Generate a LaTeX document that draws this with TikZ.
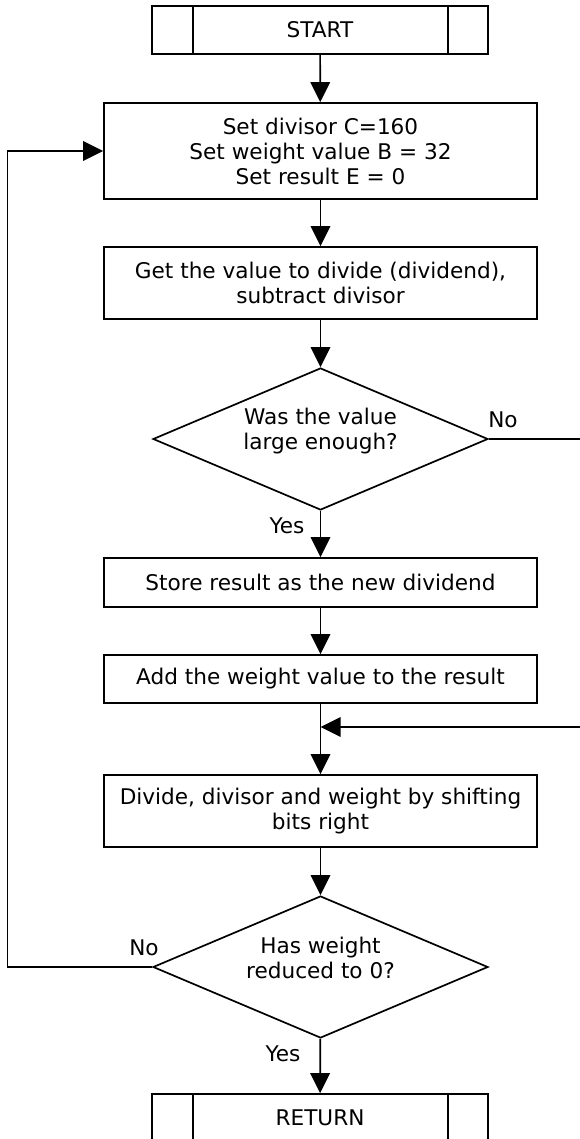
\documentclass[tikz,border=0pt]{standalone}
\usepackage{fontspec}
\setmainfont{DejaVu Sans}
\usetikzlibrary{arrows.meta,shapes.geometric,calc}
\begin{document}
\begin{tikzpicture}[x=1pt,y=-1pt,
  font=\fontsize{21.6}{25}\selectfont,
  line width=1.7pt,
  proc/.style={draw, rectangle, minimum width=433pt, inner sep=0pt, align=center},
  term/.style={draw, rectangle, minimum width=336pt, minimum height=48pt, inner sep=0pt,
    path picture={\draw[line width=1.7pt]
      ([xshift=41pt]path picture bounding box.north west) -- ([xshift=41pt]path picture bounding box.south west)
      ([xshift=-40pt]path picture bounding box.north east) -- ([xshift=-40pt]path picture bounding box.south east);}},
  decision/.style={draw, diamond, aspect=2.36, minimum width=335pt, minimum height=142pt, inner sep=0pt},
  dtext/.style={align=center, inner sep=0pt},
  arr/.style={-{Triangle[length=20pt,width=19.5pt]}},
  lbl/.style={inner sep=0pt}
]
\useasboundingbox (0,0) rectangle (579,1139);

\node[term] (start) at (320,30) {START};
\node[proc, minimum height=96pt] (init) at (320.5,151) {Set divisor C=160\\Set weight value B = 32\\Set result E = 0};
\node[proc, minimum height=72pt] (get) at (320.5,283) {Get the value to divide (dividend),\\subtract divisor};
\node[decision] (d1) at (320.5,439) {};
\node[dtext] (d1t) at (320.5,431) {Was the value\\large enough?};
\node[proc, minimum height=49pt] (store) at (320.5,582.5) {Store result as the new dividend};
\node[proc, minimum height=48pt] (add) at (320.5,679) {Add the weight value to the result};
\node[proc, minimum height=72pt] (shift) at (320.5,811) {Divide, divisor and weight by shifting\\bits right};
\node[decision] (d2) at (320.5,967) {};
\node[dtext] (d2t) at (320.5,958) {Has weight\\reduced to 0?};
\node[term] (ret) at (320,1118) {RETURN};

\node[lbl] (no1) at (503,420) {No};
\node[lbl] (yes1) at (287,526) {Yes};
\node[lbl] (no2) at (144,948) {No};
\node[lbl] (yes2) at (283,1054) {Yes};

\coordinate (rx1) at (584,439);
\coordinate (rx2) at (584,727);
\coordinate (join) at (320.5,727);
\coordinate (lx) at (7.5,967);
\coordinate (ly) at (7.5,151);

\draw[arr] (start) -- (init);
\draw[arr] (init) -- (get);
\draw[arr] (get) -- (d1);
\draw[arr] (d1) -- (store);
\draw[arr] (store) -- (add);
\draw[arr] (add) -- (shift);
\draw[arr] (shift) -- (d2);
\draw[arr] (d2) -- (ret);
\draw[arr] (d1.east) -- (rx1) -- (rx2) -- (join);
\draw[arr] (d2.west) -- (lx) -- (ly) -- (init.west);
\end{tikzpicture}
\end{document}
